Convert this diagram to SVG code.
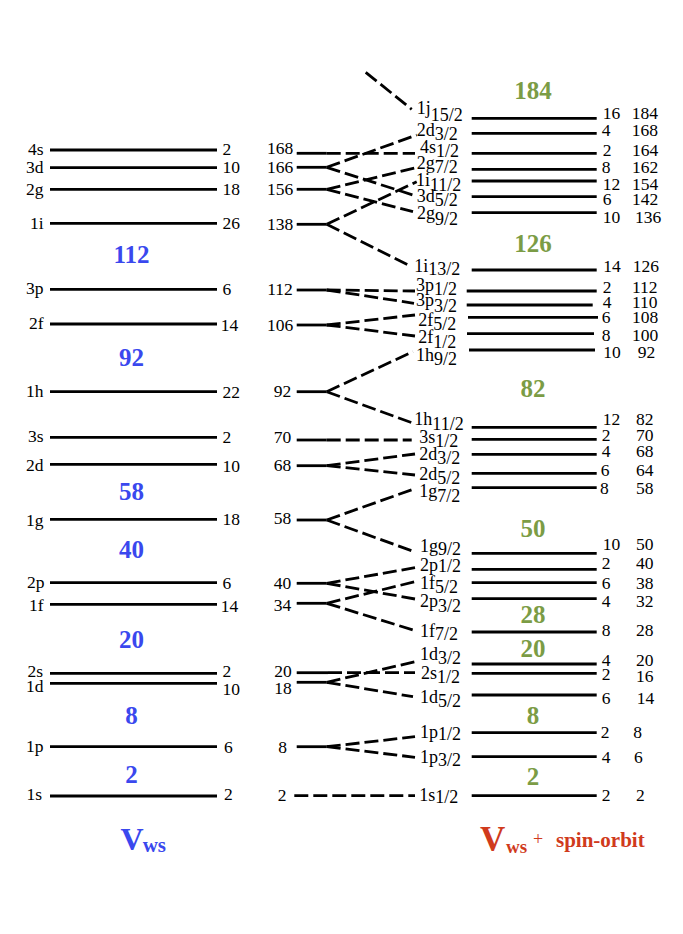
<svg xmlns="http://www.w3.org/2000/svg" width="683" height="934" viewBox="0 0 683 934">
<style>
.l{stroke:#000;stroke-width:2.8;fill:none}
.d{stroke:#000;stroke-width:2.8;fill:none;stroke-dasharray:14 5}
text{font-family:"Liberation Serif",serif;font-size:17.5px;fill:#000}
.o{font-size:18px}
.e{text-anchor:end}
.m{text-anchor:middle}
.b{font-weight:bold;font-size:25px;fill:#3a48ee;text-anchor:middle}
.g{font-weight:bold;font-size:25px;fill:#7b9c45;text-anchor:middle}
</style>
<rect width="683" height="934" fill="#fff"/>
<g id="ws-levels">
<g id="ws-4s"><line class="l" x1="50" y1="150" x2="217" y2="150"/><text class="e" x="43.5" y="155">4s</text><text x="222.5" y="155">2</text></g>
<g id="ws-3d"><line class="l" x1="50" y1="167.7" x2="217" y2="167.7"/><text class="e" x="43.5" y="173.3">3d</text><text x="222.5" y="173.3">10</text></g>
<g id="ws-2g"><line class="l" x1="50" y1="189.3" x2="217" y2="189.3"/><text class="e" x="43.5" y="194.5">2g</text><text x="222.5" y="195">18</text></g>
<g id="ws-1i"><line class="l" x1="50" y1="223.3" x2="217" y2="223.3"/><text class="e" x="43.5" y="229.3">1i</text><text x="222.5" y="229.3">26</text></g>
<g id="ws-3p"><line class="l" x1="50" y1="289.3" x2="217" y2="289.3"/><text class="e" x="43.5" y="293.5">3p</text><text x="222.5" y="295">6</text></g>
<g id="ws-2f"><line class="l" x1="50" y1="324" x2="217" y2="324"/><text class="e" x="43.5" y="328.5">2f</text><text x="220.7" y="330.7">14</text></g>
<g id="ws-1h"><line class="l" x1="50" y1="391.7" x2="217" y2="391.7"/><text class="e" x="43.5" y="396.7">1h</text><text x="222.5" y="398.3">22</text></g>
<g id="ws-3s"><line class="l" x1="50" y1="437.3" x2="217" y2="437.3"/><text class="e" x="43.5" y="441.7">3s</text><text x="222.5" y="442.7">2</text></g>
<g id="ws-2d"><line class="l" x1="50" y1="464.3" x2="217" y2="464.3"/><text class="e" x="43.5" y="470.7">2d</text><text x="222.5" y="471.7">10</text></g>
<g id="ws-1g"><line class="l" x1="50" y1="519.3" x2="217" y2="519.3"/><text class="e" x="43.5" y="525.5">1g</text><text x="222.5" y="525">18</text></g>
<g id="ws-2p"><line class="l" x1="50" y1="582.7" x2="217" y2="582.7"/><text class="e" x="44.5" y="588.3">2p</text><text x="222.5" y="589">6</text></g>
<g id="ws-1f"><line class="l" x1="50" y1="604.3" x2="217" y2="604.3"/><text class="e" x="43.5" y="610.7">1f</text><text x="220.7" y="611.7">14</text></g>
<g id="ws-2s"><line class="l" x1="50" y1="673.3" x2="217" y2="673.3"/><text class="e" x="43" y="676.7">2s</text><text x="222.5" y="676.7">2</text></g>
<g id="ws-1d"><line class="l" x1="50" y1="683.3" x2="217" y2="683.3"/><text class="e" x="43.5" y="691.7">1d</text><text x="222.5" y="695">10</text></g>
<g id="ws-1p"><line class="l" x1="50" y1="746.7" x2="217" y2="746.7"/><text class="e" x="43.5" y="752.3">1p</text><text x="224" y="753.3">6</text></g>
<g id="ws-1s"><line class="l" x1="50" y1="796" x2="217" y2="796"/><text class="e" x="42" y="800">1s</text><text x="224" y="800">2</text></g>
</g>
<g id="ws-magic">
<text class="b" x="131.5" y="262.7">112</text>
<text class="b" x="131.5" y="366">92</text>
<text class="b" x="131.5" y="500">58</text>
<text class="b" x="131.5" y="558.3">40</text>
<text class="b" x="131.5" y="648.3">20</text>
<text class="b" x="131.5" y="724">8</text>
<text class="b" x="131.5" y="783.3">2</text>
</g>
<g id="mid-levels">
<g id="m168"><line class="l" x1="296.7" y1="153.3" x2="326.7" y2="153.3"/><text class="m" x="280" y="154">168</text></g>
<g id="m166"><line class="l" x1="296.7" y1="167.3" x2="326.7" y2="167.3"/><text class="m" x="280" y="173.3">166</text></g>
<g id="m156"><line class="l" x1="296.7" y1="189.3" x2="326.7" y2="189.3"/><text class="m" x="280" y="195">156</text></g>
<g id="m138"><line class="l" x1="296.7" y1="224.3" x2="326.7" y2="224.3"/><text class="m" x="280" y="230">138</text></g>
<g id="m112"><line class="l" x1="296.7" y1="290" x2="326.7" y2="290"/><text class="m" x="280" y="295">112</text></g>
<g id="m106"><line class="l" x1="296.7" y1="325" x2="326.7" y2="325"/><text class="m" x="280" y="330.7">106</text></g>
<g id="m92"><line class="l" x1="296.7" y1="391.7" x2="326.7" y2="391.7"/><text class="m" x="282.5" y="397.3">92</text></g>
<g id="m70"><line class="l" x1="296.7" y1="440" x2="326.7" y2="440"/><text class="m" x="282.5" y="443.3">70</text></g>
<g id="m68"><line class="l" x1="296.7" y1="465.7" x2="326.7" y2="465.7"/><text class="m" x="282.5" y="470.7">68</text></g>
<g id="m58"><line class="l" x1="296.7" y1="520" x2="326.7" y2="520"/><text class="m" x="282.5" y="524">58</text></g>
<g id="m40"><line class="l" x1="296.7" y1="583.3" x2="326.7" y2="583.3"/><text class="m" x="282.5" y="589.3">40</text></g>
<g id="m34"><line class="l" x1="296.7" y1="603.3" x2="326.7" y2="603.3"/><text class="m" x="282.5" y="610.7">34</text></g>
<g id="m20"><line class="l" x1="296.7" y1="672.7" x2="328" y2="672.7"/><text class="m" x="283" y="676.7">20</text></g>
<g id="m18"><line class="l" x1="296.7" y1="682.3" x2="326.7" y2="682.3"/><text class="m" x="283" y="694">18</text></g>
<g id="m8"><line class="l" x1="296.7" y1="746.7" x2="326.7" y2="746.7"/><text class="m" x="282.5" y="752.7">8</text></g>
<g id="m2"><text class="m" x="282.2" y="800.7">2</text></g>
</g>
<g id="connectors">
<line class="d" x1="365.7" y1="72.3" x2="411.7" y2="109.3"/>
<line class="d" x1="326.7" y1="153.3" x2="415" y2="153.3"/>
<line class="d" x1="326.7" y1="167.3" x2="416.7" y2="135"/>
<line class="d" x1="326.7" y1="167.3" x2="413" y2="195"/>
<line class="d" x1="326.7" y1="189.3" x2="415" y2="168"/>
<line class="d" x1="326.7" y1="189.3" x2="413" y2="211.7"/>
<line class="d" x1="326.7" y1="224.3" x2="416.7" y2="181.7"/>
<line class="d" x1="326.7" y1="224.3" x2="411.7" y2="266.7"/>
<line class="d" x1="326.7" y1="290" x2="415" y2="291"/>
<line class="d" x1="326.7" y1="290" x2="414" y2="303.3"/>
<line class="d" x1="326.7" y1="325" x2="415" y2="315"/>
<line class="d" x1="326.7" y1="325" x2="415" y2="336"/>
<line class="d" x1="326.7" y1="391.7" x2="413" y2="351.7"/>
<line class="d" x1="326.7" y1="391.7" x2="411.7" y2="422.7"/>
<line class="d" x1="326.7" y1="440" x2="411.7" y2="440"/>
<line class="d" x1="326.7" y1="465.7" x2="415" y2="454"/>
<line class="d" x1="326.7" y1="465.7" x2="415" y2="475"/>
<line class="d" x1="326.7" y1="520" x2="413" y2="489.3"/>
<line class="d" x1="326.7" y1="520" x2="414.3" y2="551.7"/>
<line class="d" x1="326.7" y1="583.3" x2="415" y2="567.7"/>
<line class="d" x1="326.7" y1="583.3" x2="415" y2="599"/>
<line class="d" x1="326.7" y1="603.3" x2="415" y2="581.7"/>
<line class="d" x1="326.7" y1="603.3" x2="413" y2="630"/>
<line class="d" x1="328" y1="672.7" x2="415" y2="672.7"/>
<line class="d" x1="326.7" y1="682.3" x2="415" y2="661.7"/>
<line class="d" x1="326.7" y1="682.3" x2="413" y2="696.7"/>
<line class="d" x1="326.7" y1="746.7" x2="415" y2="736.7"/>
<line class="d" x1="326.7" y1="746.7" x2="415" y2="757.3"/>
<line class="d" x1="294.3" y1="795.7" x2="415" y2="795.7"/>
</g>
<g id="so-levels">
<g id="s1j15"><line class="l" x1="471.7" y1="118.3" x2="596.7" y2="118.3"/><text class="o" x="416.7" y="114.3">1j<tspan y="121">15/2</tspan></text><text x="602.7" y="119.3">16</text><text x="631.7" y="119.3">184</text></g>
<g id="s2d3a"><line class="l" x1="471.7" y1="133.3" x2="596.7" y2="133.3"/><text class="o" x="416.7" y="136">2d<tspan y="140">3/2</tspan></text><text x="601.7" y="136">4</text><text x="631.7" y="136">168</text></g>
<g id="s4s1"><line class="l" x1="471.7" y1="153.3" x2="596.7" y2="153.3"/><text class="o" x="420" y="153.3">4s<tspan y="157">1/2</tspan></text><text x="602.7" y="156">2</text><text x="632" y="156">164</text></g>
<g id="s2g7"><line class="l" x1="471.7" y1="169.3" x2="596.7" y2="169.3"/><text class="o" x="416.7" y="169.3">2g<tspan y="173.3">7/2</tspan></text><text x="601.7" y="173.3">8</text><text x="632" y="173.3">162</text></g>
<g id="s1i11"><line class="l" x1="471.7" y1="181" x2="596.7" y2="181"/><text class="o" x="416" y="186">1i<tspan y="190.7">11/2</tspan></text><text x="602.7" y="190">12</text><text x="632" y="190">154</text></g>
<g id="s3d5"><line class="l" x1="471.7" y1="196.7" x2="596.7" y2="196.7"/><text class="o" x="416.7" y="201.7">3d<tspan y="205.7">5/2</tspan></text><text x="602.7" y="205">6</text><text x="632" y="205">142</text></g>
<g id="s2g9"><line class="l" x1="471.7" y1="212.7" x2="596.7" y2="212.7"/><text class="o" x="417" y="219.3">2g<tspan y="225">9/2</tspan></text><text x="602.7" y="223.3">10</text><text x="635" y="223.3">136</text></g>
<g id="s1i13"><line class="l" x1="471.7" y1="270" x2="596.7" y2="270"/><text class="o" x="414.3" y="271.7">1i<tspan y="275">13/2</tspan></text><text x="603.3" y="272.3">14</text><text x="632.7" y="272.3">126</text></g>
<g id="s3p1"><line class="l" x1="466.7" y1="291" x2="596.7" y2="291"/><text class="o" x="416" y="291">3p<tspan y="295">1/2</tspan></text><text x="602.7" y="293.3">2</text><text x="632" y="293.3">112</text></g>
<g id="s3p3"><line class="l" x1="466.7" y1="305" x2="592.7" y2="305"/><text class="o" x="416" y="306">3p<tspan y="311.7">3/2</tspan></text><text x="602.7" y="308.3">4</text><text x="632" y="308.3">110</text></g>
<g id="s2f5"><line class="l" x1="468" y1="317.3" x2="598" y2="317.3"/><text class="o" x="418.3" y="325.5">2f<tspan y="330">5/2</tspan></text><text x="601.7" y="323.3">6</text><text x="632" y="323.3">108</text></g>
<g id="s2f1"><line class="l" x1="467" y1="333.7" x2="594" y2="333.7"/><text class="o" x="418.3" y="342.7">2f<tspan y="348.3">1/2</tspan></text><text x="601.7" y="341">8</text><text x="632" y="341">100</text></g>
<g id="s1h9"><line class="l" x1="469" y1="350" x2="595" y2="350"/><text class="o" x="416" y="361">1h<tspan y="365">9/2</tspan></text><text x="603.3" y="358.3">10</text><text x="637.7" y="358.3">92</text></g>
<g id="s1h11"><line class="l" x1="471.7" y1="427.3" x2="596.7" y2="427.3"/><text class="o" x="414.3" y="425">1h<tspan y="430">11/2</tspan></text><text x="602.7" y="425">12</text><text x="636" y="425">82</text></g>
<g id="s3s1"><line class="l" x1="471.7" y1="439.3" x2="596.7" y2="439.3"/><text class="o" x="419.3" y="443.3">3s<tspan y="446.7">1/2</tspan></text><text x="601.7" y="440.7">2</text><text x="636" y="440.7">70</text></g>
<g id="s2d3b"><line class="l" x1="471.7" y1="454.3" x2="596.7" y2="454.3"/><text class="o" x="419.3" y="460">2d<tspan y="464">3/2</tspan></text><text x="601.7" y="456.7">4</text><text x="636" y="456.7">68</text></g>
<g id="s2d5"><line class="l" x1="471.7" y1="473.3" x2="596.7" y2="473.3"/><text class="o" x="419.3" y="480">2d<tspan y="484">5/2</tspan></text><text x="600.7" y="475.7">6</text><text x="636" y="475.7">64</text></g>
<g id="s1g7"><line class="l" x1="471.7" y1="487.7" x2="596.7" y2="487.7"/><text class="o" x="419.3" y="497.3">1g<tspan y="501.7">7/2</tspan></text><text x="600" y="494">8</text><text x="636" y="494">58</text></g>
<g id="s1g9"><line class="l" x1="471.7" y1="553.3" x2="596.7" y2="553.3"/><text class="o" x="420" y="551.7">1g<tspan y="555">9/2</tspan></text><text x="602.7" y="550">10</text><text x="636" y="550">50</text></g>
<g id="s2p1"><line class="l" x1="471.7" y1="569.3" x2="596.7" y2="569.3"/><text class="o" x="420" y="570.7">2p<tspan y="572.3">1/2</tspan></text><text x="601.7" y="569">2</text><text x="636" y="569">40</text></g>
<g id="s1f5"><line class="l" x1="471.7" y1="582.7" x2="596.7" y2="582.7"/><text class="o" x="420" y="589.3">1f<tspan y="592.7">5/2</tspan></text><text x="601.7" y="589">6</text><text x="636" y="589">38</text></g>
<g id="s2p3"><line class="l" x1="471.7" y1="598.7" x2="596.7" y2="598.7"/><text class="o" x="420" y="606.7">2p<tspan y="611.7">3/2</tspan></text><text x="601.7" y="606.7">4</text><text x="636" y="606.7">32</text></g>
<g id="s1f7"><line class="l" x1="471.7" y1="632" x2="596.7" y2="632"/><text class="o" x="420" y="636.7">1f<tspan y="640">7/2</tspan></text><text x="601.7" y="636">8</text><text x="636" y="636">28</text></g>
<g id="s1d3"><line class="l" x1="471.7" y1="664" x2="596.7" y2="664"/><text class="o" x="420" y="660">1d<tspan y="664">3/2</tspan></text><text x="601.7" y="666">4</text><text x="636" y="666">20</text></g>
<g id="s2s1"><line class="l" x1="471.7" y1="673.3" x2="596.7" y2="673.3"/><text class="o" x="421" y="679.3">2s<tspan y="683.3">1/2</tspan></text><text x="601.7" y="680">2</text><text x="636" y="682.3">16</text></g>
<g id="s1d5"><line class="l" x1="471.7" y1="695" x2="596.7" y2="695"/><text class="o" x="420" y="703.3">1d<tspan y="706.7">5/2</tspan></text><text x="601.7" y="704">6</text><text x="636.7" y="704">14</text></g>
<g id="s1p1"><line class="l" x1="471.7" y1="732.7" x2="596.7" y2="732.7"/><text class="o" x="420" y="738.3">1p<tspan y="740">1/2</tspan></text><text x="600.7" y="738.3">2</text><text x="633.3" y="738.3">8</text></g>
<g id="s1p3"><line class="l" x1="471.7" y1="756.7" x2="596.7" y2="756.7"/><text class="o" x="420" y="762.7">1p<tspan y="766">3/2</tspan></text><text x="601.7" y="762.7">4</text><text x="634" y="762.7">6</text></g>
<g id="s1s1"><line class="l" x1="471.7" y1="795.7" x2="596.7" y2="795.7"/><text class="o" x="419.3" y="800.7">1s<tspan y="803.3">1/2</tspan></text><text x="601.7" y="800.7">2</text><text x="636" y="800.7">2</text></g>
</g>
<g id="so-magic">
<text class="g" x="533" y="99.3">184</text>
<text class="g" x="533" y="251.7">126</text>
<text class="g" x="533" y="397.3">82</text>
<text class="g" x="533" y="536.7">50</text>
<text class="g" x="533" y="622.7">28</text>
<text class="g" x="533" y="656.7">20</text>
<text class="g" x="533" y="724">8</text>
<text class="g" x="533" y="785">2</text>
</g>
<g id="titles">
<text x="120.5" y="850" style="font-weight:bold;font-size:32px;fill:#3a48ee">V</text>
<text x="142.7" y="851.7" style="font-weight:bold;font-size:21px;fill:#3a48ee">ws</text>
<text x="480" y="850.7" style="font-weight:bold;font-size:35px;fill:#d03a1c">V</text>
<text x="506" y="853.3" style="font-weight:bold;font-size:19px;fill:#d03a1c">ws</text>
<text x="533" y="845" style="font-size:18px;fill:#d03a1c">+</text>
<text x="556" y="846.7" style="font-weight:bold;font-size:21px;fill:#d03a1c">spin-orbit</text>
</g>
</svg>
